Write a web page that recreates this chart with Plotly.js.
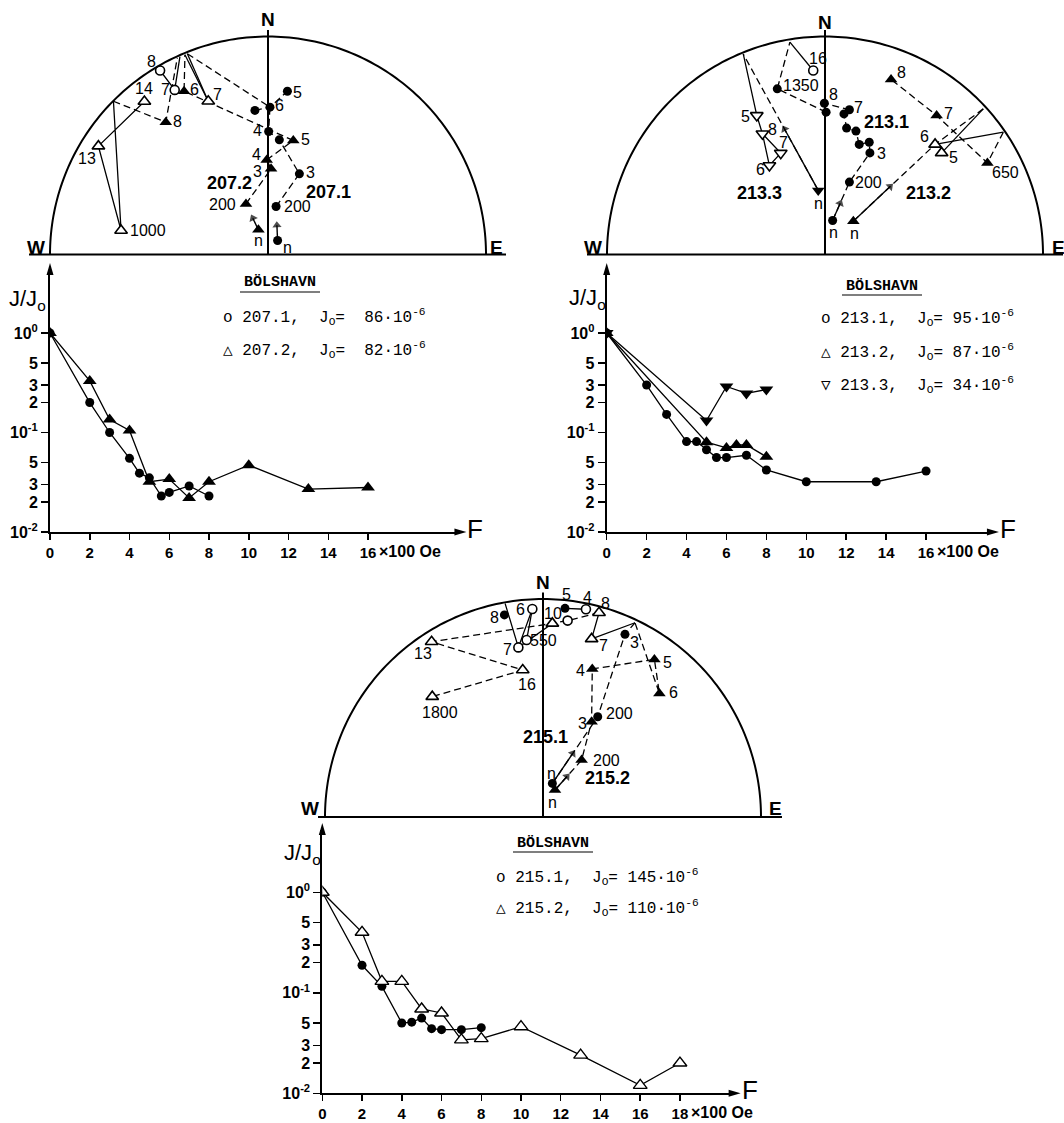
<!DOCTYPE html>
<html><head><meta charset="utf-8">
<script src="https://cdn.plot.ly/plotly-3.0.1.min.js"></script>
<style>body{margin:0;background:#fff}#g{width:1064px;height:1123px}</style>
</head><body><div id="g"></div>
<script>
// ================= DATA =================
// AF-demagnetisation decay curves: F in units of 100 Oe, J/J0
const F_207_1 = [0,2,3,4,4.5,5,5.6,6,7,8];
const J_207_1 = [1,0.2,0.1,0.055,0.039,0.035,0.023,0.025,0.029,0.023];
const F_207_2 = [0,2,3,4,5,6,7,8,10,13,16];
const J_207_2 = [1,0.33,0.135,0.105,0.032,0.034,0.022,0.032,0.047,0.027,0.028];
const F_213_1 = [0,2,3,4,4.5,5,5.5,6,7,8,10,13.5,16];
const J_213_1 = [1,0.30,0.152,0.081,0.081,0.067,0.056,0.056,0.059,0.042,0.032,0.032,0.041];
const F_213_2 = [0,5,6,6.5,7,8];
const J_213_2 = [1,0.08,0.07,0.075,0.075,0.057];
const F_213_3 = [0,5,6,7,8];
const J_213_3 = [1,0.132,0.29,0.247,0.27];
const F_215_1 = [0,2,3,4,4.5,5,5.5,6,7,8];
const J_215_1 = [1,0.188,0.116,0.05,0.051,0.056,0.044,0.043,0.043,0.045];
const F_215_2 = [0,2,3,4,5,6,7,8,10,13,16,18];
const J_215_2 = [1,0.40,0.13,0.13,0.069,0.063,0.034,0.035,0.046,0.024,0.012,0.02];

// Y tick labels
const Y_TICK_VALS = [1,0.5,0.3,0.2,0.1,0.05,0.03,0.02,0.01];
const Y_TICK_TEXT = ['10<sup>0</sup>','5','3','2','10<sup>-1</sup>','5','3','2','10<sup>-2</sup>'];
const X_TICKS_16 = [0,2,4,6,8,10,12,14,16];
const X_TICKS_18 = [0,2,4,6,8,10,12,14,16,18];

// Stereonet directions (projected, unit radius), lower hemisphere = filled, upper = open
const S207_1_LO_ID = ['n','200','3','p1','4','p2','p3','5'];
const S207_1_LO_X  = [0.044,0.037,0.144,0.052,0.003,0.009,-0.060,0.089];
const S207_1_LO_Y  = [0.064,0.220,0.370,0.526,0.564,0.676,0.661,0.749];
const S207_1_UP_ID = ['7','8'];
const S207_1_UP_X  = [-0.428,-0.495];
const S207_1_UP_Y  = [0.755,0.844];
const S207_2_LO_ID = ['n','200','3','4','5','6','8'];
const S207_2_LO_X  = [-0.044,-0.101,0.014,-0.006,0.116,-0.385,-0.469];
const S207_2_LO_Y  = [0.113,0.232,0.393,0.434,0.523,0.749,0.607];
const S207_2_UP_ID = ['7','13','14','1000'];
const S207_2_UP_X  = [-0.274,-0.778,-0.567,-0.674];
const S207_2_UP_Y  = [0.703,0.497,0.702,0.110];
const R207_ID = ['r1','r2','r3','r4','r5'];
const R207_X  = [-0.709,-0.370,-0.416,-0.404,-0.381];
const R207_Y  = [0.703,0.921,0.902,0.908,0.916];

const S213_1_LO_ID = ['n','200','3','q1','q2','q3','q4','q5','7','8','q6','1350'];
const S213_1_LO_X  = [0.035,0.112,0.206,0.203,0.157,0.142,0.099,0.087,0.112,-0.003,0.005,-0.219];
const S213_1_LO_Y  = [0.156,0.332,0.466,0.515,0.505,0.566,0.580,0.645,0.664,0.694,0.653,0.760];
const S213_1_UP_ID = ['16'];
const S213_1_UP_X  = [-0.054];
const S213_1_UP_Y  = [0.844];
const S213_2_LO_ID = ['n','650','7','8'];
const S213_2_LO_X  = [0.130,0.745,0.512,0.303];
const S213_2_LO_Y  = [0.153,0.420,0.638,0.803];
const S213_2_UP_ID = ['6','5'];
const S213_2_UP_X  = [0.505,0.535];
const S213_2_UP_Y  = [0.505,0.466];
const S213_3_LO_ID = ['n'];
const S213_3_LO_X  = [-0.031];
const S213_3_LO_Y  = [0.294];
const S213_3_UP_ID = ['5','8','7','6'];
const S213_3_UP_X  = [-0.313,-0.287,-0.203,-0.255];
const S213_3_UP_Y  = [0.638,0.554,0.465,0.408];
const R213_ID = ['a','b','c','d'];
const R213_X  = [0.726,0.818,-0.375,-0.161];
const R213_Y  = [0.668,0.561,0.920,0.974];

const S215_1_LO_ID = ['n','200','3','5','8'];
const S215_1_LO_X  = [0.043,0.251,0.376,0.101,-0.177];
const S215_1_LO_Y  = [0.154,0.460,0.838,0.957,0.927];
const S215_1_UP_ID = ['4','4.5','6','7','550'];
const S215_1_UP_X  = [0.197,0.113,-0.049,-0.113,-0.075];
const S215_1_UP_Y  = [0.953,0.901,0.954,0.778,0.812];
const S215_2_LO_ID = ['n','200','3','4','5','6'];
const S215_2_LO_X  = [0.055,0.177,0.223,0.226,0.511,0.534];
const S215_2_LO_Y  = [0.124,0.261,0.437,0.679,0.723,0.567];
const S215_2_UP_ID = ['7','8','10','13','16','1800'];
const S215_2_UP_X  = [0.223,0.257,0.043,-0.511,-0.093,-0.508];
const S215_2_UP_Y  = [0.817,0.937,0.888,0.804,0.674,0.552];
const R215_ID = ['d','e'];
const R215_X  = [0.422,-0.174];
const R215_Y  = [0.891,0.980];

// ================= LAYOUT / DRAWING =================
const W=1064,H=1123;
const PX=x=>x/W, PY=y=>1-y/H;
const FONT='Liberation Sans, Arial, Helvetica, sans-serif';
const MONO='Liberation Mono, Courier New, monospace';
const traces=[], shapes=[], annotations=[];
const layout={width:W,height:H,margin:{l:0,r:0,t:0,b:0},paper_bgcolor:'#fff',plot_bgcolor:'rgba(0,0,0,0)',
  showlegend:false,font:{family:FONT,color:'#000'},shapes,annotations};
const ak=k=>k===1?'':String(k);
const DASH='7px,4px';

function lookup(into,prefix,ids,xs,ys){ids.forEach((id,i)=>{into[prefix+id]=[xs[i],ys[i]];});}

function addNet(k,geo,pts,markerSets,segs,arrows,labels,frame){
  const XR=[-1.08,1.08],YR=[-0.05,1.15];
  const xa='xaxis'+ak(k), ya='yaxis'+ak(k), xr='x'+ak(k), yr='y'+ak(k);
  layout[xa]={domain:[(geo.cx+XR[0]*geo.R)/W,(geo.cx+XR[1]*geo.R)/W],range:XR,visible:false,fixedrange:true,anchor:yr};
  layout[ya]={domain:[1-(geo.by-YR[0]*geo.R)/H,1-(geo.by-YR[1]*geo.R)/H],range:YR,visible:false,fixedrange:true,anchor:xr};
  let d='M -1,0';
  for(let i=1;i<=160;i++){const t=Math.PI*(1-i/160);d+=' L '+Math.cos(t).toFixed(5)+','+Math.sin(t).toFixed(5);}
  shapes.push({type:'path',xref:xr,yref:yr,path:d,line:{color:'#000',width:2}});
  shapes.push({type:'line',xref:xr,yref:yr,x0:0,x1:0,y0:0,y1:1.03,line:{color:'#000',width:2}});
  shapes.push({type:'line',xref:'paper',yref:'paper',x0:PX(frame.bx0),x1:PX(frame.bx1),y0:PY(geo.by),y1:PY(geo.by),line:{color:'#000',width:2.2}});
  segs.forEach(([sty,keys])=>{
    traces.push({type:'scatter',mode:'lines',xaxis:xr,yaxis:yr,hoverinfo:'skip',
      x:keys.map(q=>pts[q][0]),y:keys.map(q=>pts[q][1]),
      line:{color:'#000',width:1.3,dash:sty==='dash'?DASH:'solid'}});
  });
  // arrows from the NRM point toward the next step
  arrows.forEach(([a,b])=>{
    const A=pts[a],B=pts[b],f=0.45;
    traces.push({type:'scatter',mode:'lines+markers',xaxis:xr,yaxis:yr,hoverinfo:'skip',
      x:[A[0],A[0]+(B[0]-A[0])*f],y:[A[1],A[1]+(B[1]-A[1])*f],
      line:{color:'#000',width:1.4},
      marker:{symbol:'triangle-up',angleref:'previous',size:[0,8],color:'#000',line:{width:0}}});
  });
  markerSets.forEach(ms=>{
    const open=ms.open;
    traces.push({type:'scatter',mode:'markers',xaxis:xr,yaxis:yr,hoverinfo:'skip',x:ms.x,y:ms.y,
      marker:{symbol:ms.sym,size:ms.sym==='circle'?9:11,color:open?'#fff':'#000',line:{color:'#000',width:open?1.6:0}}});
  });
  labels.forEach(([t,x,y,st])=>{
    let font={family:FONT,size:16,color:'#000'};
    let txt=t;
    if(st==='id'){font={family:FONT,size:18,color:'#000'};txt='<b>'+t+'</b>';}
    if(st==='ax'){font={family:FONT,size:19,color:'#000'};txt='<b>'+t+'</b>';}
    annotations.push({xref:'paper',yref:'paper',x:PX(x),y:PY(y),text:txt,showarrow:false,font,xanchor:'center',yanchor:'middle'});
  });
}

function addDecay(k,g,series,xt,legend){
  const xa='xaxis'+ak(k), ya='yaxis'+ak(k), xr='x'+ak(k), yr='y'+ak(k);
  const xEnd=g.x0+g.xmax*g.unit, yTop=g.y0-(g.ytop+2)*g.dec;
  layout[xa]={domain:[g.x0/W,xEnd/W],range:[0,g.xmax],anchor:yr,showline:true,linewidth:2,linecolor:'#000',
    showgrid:false,zeroline:false,ticks:'outside',ticklen:6,tickwidth:1.5,tickcolor:'#000',
    tickvals:xt,ticktext:xt.map(v=>'<b>'+v+'</b>'),tickfont:{family:FONT,size:15,color:'#000'},fixedrange:true};
  layout[ya]={domain:[1-g.y0/H,1-yTop/H],type:'log',range:[-2,g.ytop],anchor:xr,showline:true,linewidth:2,linecolor:'#000',
    showgrid:false,zeroline:false,ticks:'outside',ticklen:7,tickwidth:1.5,tickcolor:'#000',
    tickvals:Y_TICK_VALS,ticktext:Y_TICK_TEXT.map(t=>'<b>'+t+'</b>'),tickfont:{family:FONT,size:16,color:'#000'},fixedrange:true};
  shapes.push({type:'path',xref:'paper',yref:'paper',fillcolor:'#000',line:{width:0},
    path:`M ${PX(xEnd+7)},${PY(g.y0)} L ${PX(xEnd-5)},${PY(g.y0-3.5)} L ${PX(xEnd-5)},${PY(g.y0+3.5)} Z`});
  shapes.push({type:'path',xref:'paper',yref:'paper',fillcolor:'#000',line:{width:0},
    path:`M ${PX(g.x0)},${PY(yTop-7)} L ${PX(g.x0-3.5)},${PY(yTop+5)} L ${PX(g.x0+3.5)},${PY(yTop+5)} Z`});
  series.forEach(s=>{
    traces.push({type:'scatter',mode:'lines+markers',xaxis:xr,yaxis:yr,hoverinfo:'skip',x:s.x,y:s.y,
      line:{color:'#000',width:1.3},
      marker:{symbol:s.sym,size:s.sym==='circle'?9:12,color:s.open?'#fff':'#000',line:{color:'#000',width:s.open?1.4:0}}});
  });
  annotations.push({xref:'paper',yref:'paper',x:PX(g.jx),y:PY(g.jy),text:'J/J<sub>o</sub>',showarrow:false,xanchor:'center',yanchor:'middle',font:{family:FONT,size:22,color:'#000'}});
  annotations.push({xref:'paper',yref:'paper',x:PX(xEnd+16),y:PY(g.y0-3),text:'F',showarrow:false,xanchor:'center',yanchor:'middle',font:{family:FONT,size:26,color:'#000'}});
  annotations.push({xref:'paper',yref:'paper',x:PX(g.x0+xt[xt.length-1]*g.unit+9),y:PY(g.y0+19),text:'<b>×100 Oe</b>',showarrow:false,xanchor:'left',yanchor:'middle',font:{family:FONT,size:16,color:'#000'}});
  annotations.push({xref:'paper',yref:'paper',x:PX(legend.bx),y:PY(legend.by),text:'<b>BÖLSHAVN</b>',showarrow:false,xanchor:'center',yanchor:'middle',font:{family:MONO,size:15,color:'#000'}});
  shapes.push({type:'line',xref:'paper',yref:'paper',x0:PX(legend.bx-40),x1:PX(legend.bx+40),y0:PY(legend.by+9),y1:PY(legend.by+9),line:{color:'#000',width:1.2}});
  legend.lines.forEach((t,i)=>{
    annotations.push({xref:'paper',yref:'paper',x:PX(legend.lx),y:PY(legend.ly[i]),text:t,showarrow:false,xanchor:'left',yanchor:'middle',font:{family:MONO,size:16,color:'#000'}});
  });
}

// ---------- Net 207 ----------
{
  const P={};
  lookup(P,'1l:',S207_1_LO_ID,S207_1_LO_X,S207_1_LO_Y);
  lookup(P,'1u:',S207_1_UP_ID,S207_1_UP_X,S207_1_UP_Y);
  lookup(P,'2l:',S207_2_LO_ID,S207_2_LO_X,S207_2_LO_Y);
  lookup(P,'2u:',S207_2_UP_ID,S207_2_UP_X,S207_2_UP_Y);
  lookup(P,'r:',R207_ID,R207_X,R207_Y);
  const segs=[
    ['dash',['1l:200','1l:3','1l:p1','1l:4','1l:p2']],
    ['dash',['1l:p3','1l:p2','1l:5']],
    ['dash',['r:r2','1l:p2']],
    ['solid',['1u:8','1u:7','r:r4']],
    ['dash',['2l:200','2l:3']],
    ['solid',['2l:3','2l:4']],
    ['dash',['2l:4','2l:5','2l:6','r:r5']],
    ['solid',['2u:7','r:r2']],
    ['solid',['2u:7','r:r5']],
    ['dash',['r:r1','2l:8','r:r3']],
    ['solid',['r:r1','2u:1000','2u:13','2u:14']]
  ];
  const ms=[
    {x:S207_1_LO_X,y:S207_1_LO_Y,sym:'circle',open:false},
    {x:S207_1_UP_X,y:S207_1_UP_Y,sym:'circle',open:true},
    {x:S207_2_LO_X,y:S207_2_LO_Y,sym:'triangle-up',open:false},
    {x:S207_2_UP_X,y:S207_2_UP_Y,sym:'triangle-up',open:true}
  ];
  const labels=[
    ['N',268,20,'ax'],['W',36,247,'ax'],['E',496,247,'ax'],
    ['8',151,62],['7',165,90],['6',194,90],['7',217,95],['14',144,89],['8',177,122],['13',87,159],['1000',148,230],
    ['5',297,92],['6',279,105],['4',257,131],['5',305,139],['4',256,154],['3',257,172],['3',310,173],
    ['200',222,204],['200',297,207],['n',258,240],['n',287,247],
    ['207.2',229,183,'id'],['207.1',328,192,'id']
  ];
  addNet(1,{cx:268,by:254.5,R:218},P,ms,segs,[['1l:n','1l:200'],['2l:n','2l:200']],labels,{bx0:29,bx1:506});
}
// ---------- Net 213 ----------
{
  const P={};
  lookup(P,'1l:',S213_1_LO_ID,S213_1_LO_X,S213_1_LO_Y);
  lookup(P,'1u:',S213_1_UP_ID,S213_1_UP_X,S213_1_UP_Y);
  lookup(P,'2l:',S213_2_LO_ID,S213_2_LO_X,S213_2_LO_Y);
  lookup(P,'2u:',S213_2_UP_ID,S213_2_UP_X,S213_2_UP_Y);
  lookup(P,'3l:',S213_3_LO_ID,S213_3_LO_X,S213_3_LO_Y);
  lookup(P,'3u:',S213_3_UP_ID,S213_3_UP_X,S213_3_UP_Y);
  lookup(P,'r:',R213_ID,R213_X,R213_Y);
  const segs=[
    ['dash',['1l:n','1l:200','1l:3','1l:q1','1l:q2','1l:q3','1l:q4','1l:q5','1l:7','1l:8']],
    ['dash',['1l:q6','1l:1350','r:d']],
    ['solid',['r:d','1u:16']],
    ['dash',['2l:n','2u:6']],
    ['solid',['2u:5','r:a']],
    ['dash',['r:a','2u:6']],
    ['solid',['r:b','2u:6']],
    ['dash',['r:b','2l:650','2l:7','2l:8']],
    ['dash',['3l:n','r:c']],
    ['solid',['r:c','3u:5','3u:8','3u:6','3u:7','3u:8']]
  ];
  const ms=[
    {x:S213_1_LO_X,y:S213_1_LO_Y,sym:'circle',open:false},
    {x:S213_1_UP_X,y:S213_1_UP_Y,sym:'circle',open:true},
    {x:S213_2_LO_X,y:S213_2_LO_Y,sym:'triangle-up',open:false},
    {x:S213_2_UP_X,y:S213_2_UP_Y,sym:'triangle-up',open:true},
    {x:S213_3_LO_X,y:S213_3_LO_Y,sym:'triangle-down',open:false},
    {x:S213_3_UP_X,y:S213_3_UP_Y,sym:'triangle-down',open:true}
  ];
  const labels=[
    ['N',825,22,'ax'],['W',593,247,'ax'],['E',1058,247,'ax'],
    ['16',818,58],['1350',801,85],['8',833,95],['7',858,108],['3',881,153],['200',868,182],['n',833,232],['n',854,233],
    ['5',745,117],['8',772,130],['7',783,142],['6',760,169],['n',818,203],
    ['8',901,73],['7',948,113],['6',924,137],['5',953,158],['650',1005,173],
    ['213.1',886,122,'id'],['213.3',759,193,'id'],['213.2',928,193,'id']
  ];
  addNet(3,{cx:825,by:254.5,R:218},P,ms,segs,[['1l:n','1l:200'],['2l:n','2u:6'],['3l:n','r:c']],labels,{bx0:587,bx1:1063});
}
// ---------- Net 215 ----------
{
  const P={};
  lookup(P,'1l:',S215_1_LO_ID,S215_1_LO_X,S215_1_LO_Y);
  lookup(P,'1u:',S215_1_UP_ID,S215_1_UP_X,S215_1_UP_Y);
  lookup(P,'2l:',S215_2_LO_ID,S215_2_LO_X,S215_2_LO_Y);
  lookup(P,'2u:',S215_2_UP_ID,S215_2_UP_X,S215_2_UP_Y);
  lookup(P,'r:',R215_ID,R215_X,R215_Y);
  const segs=[
    ['dash',['1l:n','1l:200','1l:3','r:d']],
    ['dash',['2l:n','2l:200','2l:3','2l:4','2l:5','2l:6','r:d']],
    ['solid',['r:d','2u:7','2u:8']],
    ['dash',['2u:8','1u:4.5','2u:10','2u:13','2u:16','2u:1800']],
    ['solid',['1l:5','1u:4']],
    ['solid',['r:e','1u:7','1u:6']],
    ['solid',['1u:550','1u:6']],
    ['solid',['1u:7','2u:10']]
  ];
  const ms=[
    {x:S215_1_LO_X,y:S215_1_LO_Y,sym:'circle',open:false},
    {x:S215_1_UP_X,y:S215_1_UP_Y,sym:'circle',open:true},
    {x:S215_2_LO_X,y:S215_2_LO_Y,sym:'triangle-up',open:false},
    {x:S215_2_UP_X,y:S215_2_UP_Y,sym:'triangle-up',open:true}
  ];
  const labels=[
    ['N',543,582,'ax'],['W',310,808,'ax'],['E',775,808,'ax'],
    ['5',566,594],['4',587,597],['8',605,603],['8',494,617],['6',520,609],['10',553,613],['7',507,649],['550',543,640],
    ['13',423,653],['16',527,684],['1800',440,712],
    ['7',603,645],['3',634,642],['4',580,670],['5',667,662],['6',673,692],['200',619,713],['3',582,723],
    ['200',606,760],['n',551,773],['n',552,802],
    ['215.1',545,737,'id'],['215.2',607,778,'id']
  ];
  addNet(5,{cx:543,by:817,R:218},P,ms,segs,[['1l:n','1l:200'],['2l:n','2l:200']],labels,{bx0:318,bx1:782});
}

// ---------- Decay plots ----------
addDecay(2,{x0:50,unit:19.875,xmax:20.6,y0:532,dec:99.5,ytop:0.633,jx:27,jy:300},
  [{x:F_207_2,y:J_207_2,sym:'triangle-up',open:false},{x:F_207_1,y:J_207_1,sym:'circle',open:false}],
  X_TICKS_16,
  {bx:280,by:283,lx:221,ly:[317,350],lines:[
    'o 207.1,  J<sub>O</sub>=  86·10<sup>-6</sup>',
    '△ 207.2,  J<sub>O</sub>=  82·10<sup>-6</sup>']});
addDecay(4,{x0:606.7,unit:19.96,xmax:19.3,y0:532,dec:99.5,ytop:0.633,jx:587,jy:299},
  [{x:F_213_3,y:J_213_3,sym:'triangle-down',open:false},{x:F_213_2,y:J_213_2,sym:'triangle-up',open:false},{x:F_213_1,y:J_213_1,sym:'circle',open:false}],
  X_TICKS_16,
  {bx:882,by:286,lx:819,ly:[318,352,385],lines:[
    'o 213.1,  J<sub>O</sub>= 95·10<sup>-6</sup>',
    '△ 213.2,  J<sub>O</sub>= 87·10<sup>-6</sup>',
    '▽ 213.3,  J<sub>O</sub>= 34·10<sup>-6</sup>']});
addDecay(6,{x0:322.3,unit:19.87,xmax:20.7,y0:1093.3,dec:100.5,ytop:0.62,jx:302,jy:854},
  [{x:F_215_1,y:J_215_1,sym:'circle',open:false},{x:F_215_2,y:J_215_2,sym:'triangle-up',open:true}],
  X_TICKS_18,
  {bx:553,by:843,lx:494,ly:[877,908],lines:[
    'o 215.1,  J<sub>O</sub>= 145·10<sup>-6</sup>',
    '△ 215.2,  J<sub>O</sub>= 110·10<sup>-6</sup>']});

Plotly.newPlot('g',traces,layout,{staticPlot:true,displayModeBar:false});
</script></body></html>
